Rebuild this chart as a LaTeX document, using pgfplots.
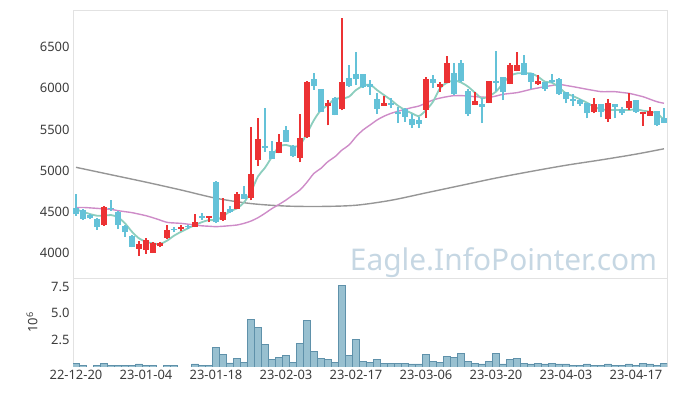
\documentclass[border=0pt]{standalone}
\usepackage{pgfplots}
\pgfplotsset{compat=1.18}
\usepackage{pgfplotstable}
\usepackage{fontspec}
\setmainfont{Noto Sans}
\definecolor{upc}{RGB}{236,50,52}
\definecolor{dnc}{RGB}{100,194,216}
\definecolor{ma5}{RGB}{140,206,190}
\definecolor{ma20}{RGB}{206,140,200}
\definecolor{ma60}{RGB}{150,150,150}
\definecolor{volf}{RGB}{152,192,208}
\definecolor{vole}{RGB}{95,145,170}
\definecolor{wm}{RGB}{198,215,227}
\definecolor{framec}{RGB}{226,226,226}
\definecolor{tickc}{RGB}{60,60,60}

\pgfplotstableread{
i O H L C
4 4340 4570 4330 4560
9 4050 4140 3970 4110
10 4035 4180 3990 4155
11 4005 4130 4000 4120
12 4080 4130 4070 4120
13 4180 4340 4175 4280
15 4290 4340 4265 4315
17 4320 4470 4315 4375
19 4430 4450 4375 4445
21 4405 4665 4390 4500
23 4540 4740 4530 4712
25 4670 5535 4640 4965
26 5130 5635 5055 5385
29 5218 5440 5210 5347
32 5157 5687 5100 5400
33 5410 6085 5400 6080
36 5790 5860 5550 5820
38 5745 6850 5730 6080
44 5790 5900 5785 5820
50 5740 6140 5640 6110
52 6015 6080 5960 6045
53 6067 6385 6060 6302
57 5800 5960 5795 5845
59 5825 6090 5815 6087
62 6050 6310 6045 6280
63 6212 6436 6205 6282
66 6047 6160 6040 6087
74 5711 5877 5695 5805
76 5630 5865 5595 5817
79 5763 5940 5735 5845
81 5683 5715 5545 5711
82 5666 5776 5660 5723
}\up

\pgfplotstableread{
i O H L C
0 4550 4712 4453 4477
1 4520 4530 4400 4410
2 4460 4470 4410 4420
3 4415 4420 4280 4315
5 4550 4640 4510 4535
6 4500 4510 4290 4340
7 4330 4335 4200 4250
8 4210 4215 4070 4075
14 4290 4320 4250 4275
16 4330 4345 4295 4310
18 4450 4480 4405 4430
20 4860 4870 4370 4375
22 4535 4575 4490 4495
24 4720 4815 4655 4660
27 5300 5755 5230 5275
28 5240 5360 5135 5140
30 5493 5540 5345 5350
31 5300 5310 5160 5180
34 6110 6190 5980 6030
35 5985 5990 5710 5715
37 5880 5890 5670 5675
39 6120 6280 6020 6030
40 6170 6445 6040 6110
41 6170 6175 6005 6010
42 6050 6100 5920 6010
43 5870 5940 5690 5745
45 5820 5880 5755 5800
46 5710 5775 5575 5683
47 5750 5760 5595 5655
48 5625 5690 5515 5557
49 5615 5650 5515 5570
51 6110 6160 6005 6068
54 6185 6300 5920 5925
55 6300 6340 6080 6090
56 5965 5990 5660 5690
58 5810 5880 5575 5770
60 6090 6450 5965 6065
61 6135 6140 5855 5960
64 6300 6405 6155 6160
65 6180 6190 5990 6080
67 6070 6080 5970 5990
68 6100 6170 6060 6070
69 6110 6120 5920 5925
70 5950 5960 5815 5865
71 5870 5925 5790 5850
72 5855 5870 5790 5812
73 5817 5820 5635 5695
75 5805 5810 5645 5715
77 5805 5810 5635 5776
78 5745 5770 5680 5695
80 5857 5860 5700 5715
83 5723 5725 5540 5550
84 5635 5765 5575 5580
}\down

\pgfplotstableread{
i m5 m20
0 4530 4550
1 4501 4553
2 4473 4548
3 4453 4542
4 4453 4536
5 4461 4530
6 4433 4514
7 4360 4502
8 4258 4490
9 4178 4472
10 4137 4453
11 4117 4428
12 4110 4400
13 4150 4372
14 4210 4365
15 4258 4360
16 4300 4350
17 4340 4340
18 4375 4330
19 4400 4325
20 4400 4320
21 4445 4325
22 4506 4332
23 4542 4340
24 4615 4360
25 4744 4388
26 4930 4429
27 5035 4482
28 5169 4540
29 5290 4590
30 5311 4643
31 5290 4705
32 5311 4765
33 5453 4860
34 5614 4967
35 5735 5028
36 5796 5110
37 5873 5169
38 5875 5250
39 5897 5311
40 5978 5411
41 6027 5493
42 6043 5553
43 5978 5614
44 5917 5660
45 5857 5695
46 5788 5720
47 5735 5744
48 5695 5765
49 5663 5784
50 5735 5820
51 5836 5857
52 5999 5880
53 6067 5897
54 6092 5910
55 6070 5910
56 6019 5905
57 5946 5897
58 5877 5893
59 5905 5889
60 5958 5905
61 6059 5926
62 6148 5936
63 6180 5946
64 6180 5965
65 6180 5987
66 6140 6003
67 6079 6019
68 6067 6033
69 6010 6047
70 5938 6033
71 5905 6019
72 5865 6003
73 5824 5987
74 5776 5972
75 5744 5958
76 5735 5958
77 5735 5958
78 5735 5948
79 5735 5938
80 5744 5918
81 5727 5897
82 5715 5866
83 5695 5836
84 5614 5817
}\ma

\pgfplotstableread{
i m
0 5040
5 4950
10 4860
15 4765
20 4665
25 4600
30 4570
35 4565
40 4580
45 4640
50 4730
55 4820
60 4910
65 4990
70 5065
75 5130
80 5200
84 5265
}\malong

\pgfplotstableread{
i v
0 0.30
1 0.18
3 0.18
4 0.36
5 0.18
6 0.18
7 0.18
8 0.18
9 0.28
10 0.18
11 0.18
13 0.18
14 0.18
17 0.28
18 0.18
19 0.18
20 1.85
21 1.20
22 0.39
23 0.83
24 0.45
25 4.44
26 3.70
27 2.13
28 0.68
29 0.87
30 1.11
31 0.45
32 2.22
33 4.35
34 1.48
35 0.83
36 0.68
37 0.45
38 7.60
39 1.11
40 2.59
41 0.55
42 0.45
43 0.68
44 0.36
45 0.36
46 0.36
47 0.36
48 0.28
49 0.28
50 1.20
51 0.55
52 0.45
53 1.02
54 0.93
55 1.30
56 0.55
57 0.36
58 0.28
59 0.55
60 1.30
61 0.28
62 0.74
63 0.83
64 0.36
65 0.28
66 0.36
67 0.28
68 0.36
69 0.28
70 0.28
71 0.18
72 0.18
73 0.28
74 0.18
75 0.18
76 0.28
77 0.18
78 0.18
79 0.28
80 0.18
81 0.36
82 0.28
83 0.18
84 0.36
}\vol

\begin{document}
\begin{tikzpicture}
\path[use as bounding box] (0,0) rectangle (677bp,396bp);
\pgfplotsset{
  every axis/.append style={
    scale only axis,
    width=594bp,
    xmin=-0.4286, xmax=84.4286,
    axis line style={draw=framec, line width=0.8bp},
    tick style={draw=none},
    tick label style={font=\fontsize{13}{15}\selectfont, text=tickc},
    /pgf/number format/assume math mode=true,
    clip=true,
  }
}
% upper panel
\begin{axis}[
  at={(73bp,118bp)}, anchor=south west,
  height=268bp,
  ymin=3697, ymax=6949,
  ytick={4000,4500,5000,5500,6000,6500},
  yticklabel style={/pgf/number format/.cd, fixed, 1000 sep={}},
  xtick={0,10,...,80}, xticklabels={},
]
\addplot[ma60, line width=1.4bp, smooth, mark=none] table[x=i,y=m] {\malong};
\addplot[ma20, line width=1.4bp, smooth, mark=none] table[x=i,y=m20] {\ma};
\addplot[ma5, line width=1.8bp, smooth, mark=none] table[x=i,y=m5] {\ma};
% wicks
\addplot[draw=none, mark=none, error bars/.cd, y dir=plus, y explicit, error mark=none,
  error bar style={draw=upc, line width=1.1bp}]
  table[x=i, y=L, y error expr=\thisrow{H}-\thisrow{L}] {\up};
\addplot[draw=none, mark=none, error bars/.cd, y dir=plus, y explicit, error mark=none,
  error bar style={draw=dnc, line width=1.1bp}]
  table[x=i, y=L, y error expr=\thisrow{H}-\thisrow{L}] {\down};
% bodies
\addplot[draw=none, mark=none, error bars/.cd, y dir=plus, y explicit, error mark=none,
  error bar style={draw=upc, line width=5.2bp}]
  table[x=i, y=O, y error expr=\thisrow{C}-\thisrow{O}] {\up};
\addplot[draw=none, mark=none, error bars/.cd, y dir=plus, y explicit, error mark=none,
  error bar style={draw=dnc, line width=5.2bp}]
  table[x=i, y=C, y error expr=\thisrow{O}-\thisrow{C}] {\down};
\node[anchor=base west, text=wm, font=\fontsize{30}{30}\selectfont, inner sep=0pt]
  at (axis cs:39.1,3794) {Eagle.InfoPointer.com};
\end{axis}
% volume panel
\begin{axis}[
  at={(73bp,29bp)}, anchor=south west,
  height=89bp,
  ymin=0, ymax=8.3,
  separate axis lines,
  x axis line style={draw=none},
  ytick={2.5,5,7.5},
  yticklabel style={/pgf/number format/.cd, fixed, fixed zerofill, precision=1},
  xtick={0,10,...,80},
  xticklabels={22-12-20,23-01-04,23-01-18,23-02-03,23-02-17,23-03-06,23-03-20,23-04-03,23-04-17},
  ylabel={10\textsuperscript{6}},
  ylabel style={at={(axis description cs:-0.069,0.5)}, anchor=center, font=\fontsize{13}{15}\selectfont, text=tickc},
]
\addplot[ybar, bar width=1, bar shift=0pt, fill=volf, draw=vole, line width=0.6bp] table[x=i,y=v] {\vol};
\end{axis}
\end{tikzpicture}
\end{document}
